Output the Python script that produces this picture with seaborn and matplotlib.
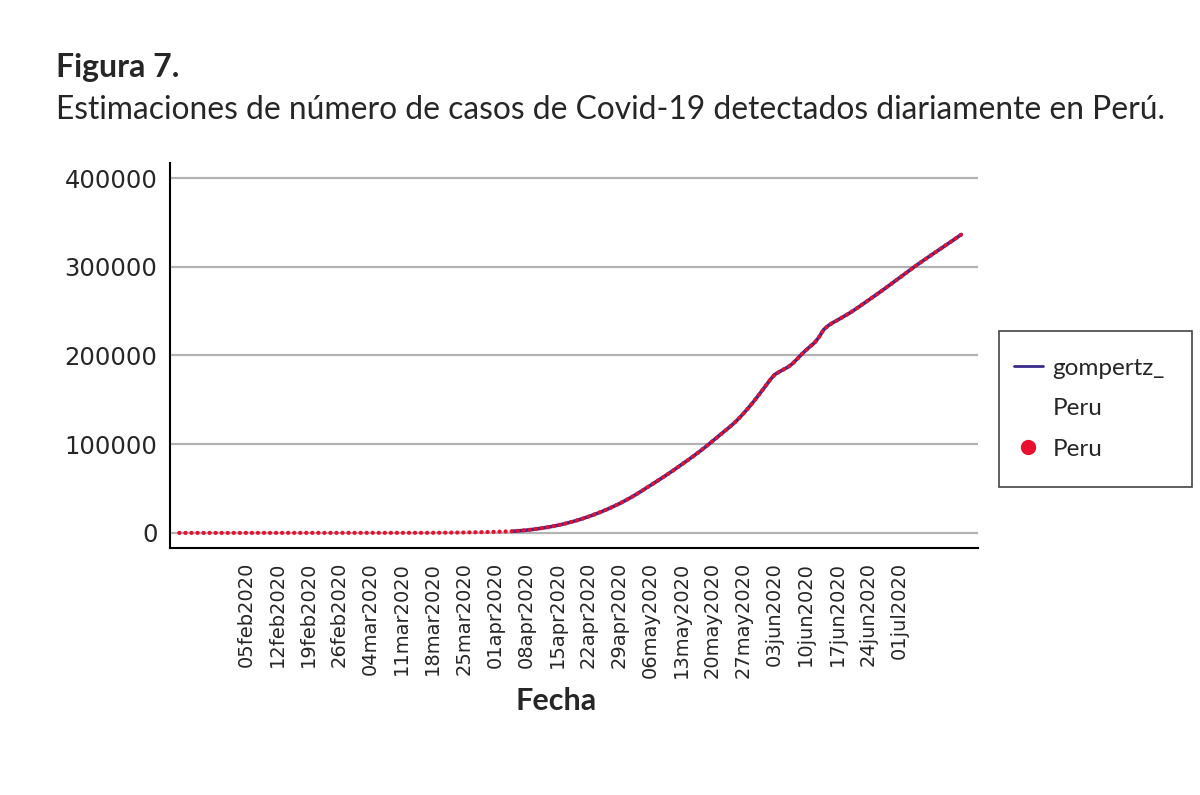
import seaborn as sns
import matplotlib.pyplot as plt
from matplotlib.lines import Line2D
from matplotlib.patches import Rectangle
import pandas as pd

###############################################################################
# cumulative detected cases in Peru, one value per day
# from 21jan2020 to 15jul2020
START_DATE = "2020-01-21"
peru_jan_mar = [
    0, 0, 0, 0, 0, 0, 0, 0, 0, 0, 0,                       # 21-31 jan
    0, 0, 0, 0, 0, 0, 0, 0, 0, 0, 0, 0, 0, 0, 0,
    0, 0, 0, 0, 0, 0, 0, 0, 0, 0, 0, 0, 0, 0,              # feb
    0, 0, 0, 0, 0,                                         # 01-05 mar
    1, 6, 7, 9, 11, 17, 22, 38, 43, 71, 86, 117, 145, 234, 263, 318,
    363, 395, 416, 480, 580, 635, 671, 852, 950, 1065,
]
peru_apr = [1300, 1420, 1550, 1700, 1900, 2200, 2600, 3050, 3600, 4200,
            4900, 5650, 6500, 7400, 8400, 9500, 10700, 12000, 13400, 14900,
            16500, 18200, 20000, 21900, 23900, 26000, 28200, 30500, 32900, 35500]
peru_may = [38200, 41000, 44000, 47100, 50300, 53500, 56700, 59900, 63200,
            66500, 69900, 73400, 77000, 80500, 84000, 87700, 91400, 95300,
            99300, 103500, 107600, 111700, 115900, 120000, 124500, 129400,
            134800, 140500, 146500, 152800, 159400]
peru_jun = [166000, 172800, 178500, 181500, 184300, 187000, 190800, 195800,
            201000, 205900, 210300, 214500, 221000, 229000, 233500, 236800,
            239500, 242400, 245300, 248300, 251600, 255000, 258500, 262000,
            265500, 269000, 272600, 276200, 279900, 283600]
peru_jul = [287300, 291000, 294700, 298400, 302000, 305500, 309000, 312400,
            315800, 319200, 322600, 326000, 329400, 332900, 336400]

# the gompertz fit is only drawn from this day on
GOMPERTZ_START = "2020-04-05"

Y_TICKS = [0, 100000, 200000, 300000, 400000]
X_TICK_FIRST = "2020-02-05"
X_TICK_LAST = "2020-07-01"

NAVY = "#3b2a8e"
RED = "#e8102e"
###############################################################################

peru = peru_jan_mar + peru_apr + peru_may + peru_jun + peru_jul
df = pd.DataFrame({"fecha": pd.date_range(START_DATE, periods=len(peru), freq="D"),
                   "Peru": peru})
gomp = df[df["fecha"] >= GOMPERTZ_START].rename(columns={"Peru": "gompertz_Peru"})

sns.set_style("white")
plt.rcParams["font.family"] = ["Lato", "DejaVu Sans"]

fig = plt.figure(figsize=(12, 7.95), dpi=100)
ax = fig.add_axes([0.1417, 0.3107, 0.815 - 0.1417, 0.795 - 0.3107])

for yv in Y_TICKS:
    ax.axhline(yv, color="#b3b3b3", lw=1.6, zorder=0)

sns.lineplot(data=gomp, x="fecha", y="gompertz_Peru", color=NAVY, lw=2.6, ax=ax)
sns.lineplot(data=df, x="fecha", y="Peru", color=RED, lw=3.0, ax=ax,
             linestyle=(0, (0.05, 1.4)), dash_capstyle="round")

ax.set_xlim(pd.Timestamp("2020-01-18 22:00"), pd.Timestamp("2020-07-18 18:00"))
ax.set_ylim(-17000, 417000)
ax.set_yticks(Y_TICKS)
ax.set_yticklabels([str(v) for v in Y_TICKS], family="DejaVu Sans", fontsize=17.5)

ticks = pd.date_range(X_TICK_FIRST, X_TICK_LAST, freq="7D")
ax.set_xticks(ticks)
ax.set_xticklabels([t.strftime("%d%b%Y").lower() for t in ticks], rotation=90,
                   family="DejaVu Sans", fontsize=14)

ax.tick_params(axis="both", direction="out", length=7, width=1.3, color="black")
ax.tick_params(axis="x", pad=3)
ax.tick_params(axis="y", pad=2)
for s in ["top", "right"]:
    ax.spines[s].set_visible(False)
for s in ["left", "bottom"]:
    ax.spines[s].set_color("black")
    ax.spines[s].set_linewidth(1.5)

ax.set_ylabel("")
ax.set_xlabel("Fecha", fontsize=22, fontweight="bold")
ax.xaxis.set_label_coords(0.478, -0.362)

# legend: wrapped first label, the line handle sits next to its first line
handles = [Line2D([], [], color=NAVY, lw=2),
           Line2D([], [], color="none"),
           Line2D([], [], color=RED, marker="o", ls="", markersize=10)]
leg = fig.legend(handles, ["gompertz_", "Peru", "Peru"], loc="upper left",
                 bbox_to_anchor=(999 / 1200, 1 - 343 / 795), fontsize=17.5,
                 frameon=False, borderaxespad=0, handlelength=1.2,
                 handletextpad=0.4, borderpad=0.6, labelspacing=0.8)
fig.patches.append(Rectangle((999 / 1200, 1 - 487 / 795), 193 / 1200, 156 / 795,
                             transform=fig.transFigure, fill=False,
                             edgecolor="#444444", lw=1.2))

fig.text(0.047, 0.915, "Figura 7.", fontsize=23, fontweight="bold", va="center")
fig.text(0.047, 0.862, "Estimaciones de número de casos de Covid-19 detectados diariamente en Perú.",
         fontsize=22.9, va="center")

plt.savefig("out.png", dpi=100)
